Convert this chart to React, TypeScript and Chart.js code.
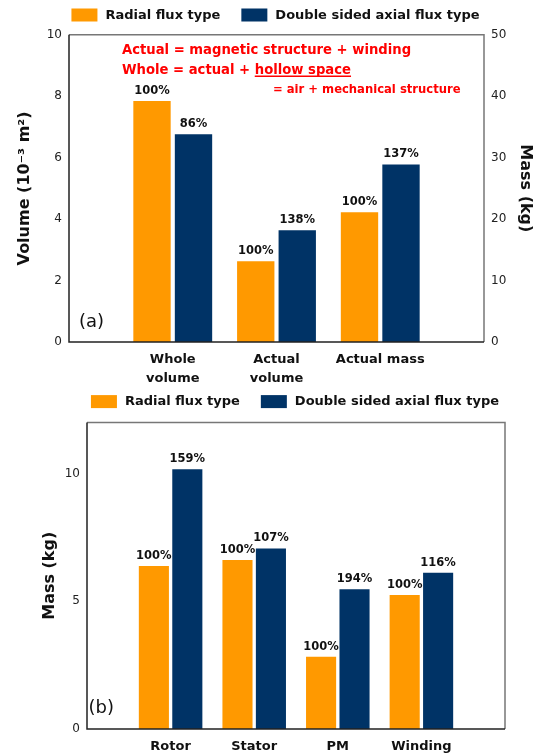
import React, { useEffect, useRef } from 'react';
import { Chart, registerables } from 'chart.js';

Chart.register(...registerables);

const FONT = '"DejaVu Sans", Verdana, sans-serif';
const ORANGE = '#FF9900';
const NAVY = '#003366';

const seriesNames = ['Radial flux type', 'Double sided axial flux type'];
const seriesColors = [ORANGE, NAVY];

// ---- (a) ----
const categoriesA: (string | string[])[] = [['Whole', 'volume'], ['Actual', 'volume'], 'Actual mass'];
const volumeCategoryIdx = [0, 1];
const massCategoryIdx = [2];
const volumeRadial = [7.84, 2.63]; // 10^-3 m^3
const volumeAxial = [6.76, 3.64];
const massRadialA = [21.1]; // kg
const massAxialA = [28.9];
const pctRadialA = ['100%', '100%', '100%'];
const pctAxialA = ['86%', '138%', '137%'];
const volumeTicks = [0, 2, 4, 6, 8, 10];
const massTicksA = [0, 10, 20, 30, 40, 50];
const noteLine1 = 'Actual = magnetic structure + winding';
const noteLine2Prefix = 'Whole = actual + ';
const noteLine2Under = 'hollow space';
const noteLine3 = '= air + mechanical structure';

// ---- (b) ----
const categoriesB = ['Rotor', 'Stator', 'PM', 'Winding'];
const massRadialB = [6.38, 6.62, 2.83, 5.25];
const massAxialB = [10.17, 7.07, 5.47, 6.12];
const pctRadialB = ['100%', '100%', '100%', '100%'];
const pctAxialB = ['159%', '107%', '194%', '116%'];
const massTicksB = [0, 5, 10];
const massMaxB = 12;

function place<T>(values: T[], idxs: number[], n: number): (T | null)[] {
  const out: (T | null)[] = Array(n).fill(null);
  idxs.forEach((ci, k) => { out[ci + 1] = values[k]; });
  return out;
}

const pctPlugin = {
  id: 'pct',
  afterDatasetsDraw(chart: any) {
    const ctx = chart.ctx;
    ctx.save();
    ctx.font = `bold 11.5px ${FONT}`;
    ctx.fillStyle = '#111';
    ctx.textAlign = 'center';
    ctx.textBaseline = 'alphabetic';
    chart.data.datasets.forEach((ds: any, i: number) => {
      const meta = chart.getDatasetMeta(i);
      meta.data.forEach((el: any, j: number) => {
        const label = ds.pct ? ds.pct[j] : null;
        if (label == null || ds.data[j] == null) return;
        ctx.fillText(label, el.x, el.y - 7);
      });
    });
    ctx.restore();
  },
};

const framePlugin = {
  id: 'frame',
  afterDraw(chart: any) {
    const { ctx, chartArea: a } = chart;
    ctx.save();
    ctx.lineWidth = 1.5;
    ctx.strokeStyle = '#777';
    ctx.beginPath();
    ctx.moveTo(a.left, a.top);
    ctx.lineTo(a.right, a.top);
    ctx.lineTo(a.right, a.bottom);
    ctx.stroke();
    ctx.strokeStyle = '#222';
    ctx.beginPath();
    ctx.moveTo(a.left, a.top);
    ctx.lineTo(a.left, a.bottom);
    ctx.lineTo(a.right, a.bottom);
    ctx.stroke();
    ctx.restore();
  },
};

const boxLegendPlugin = {
  id: 'boxLegend',
  afterDraw(chart: any, _args: any, opts: any) {
    const { ctx, chartArea: a } = chart;
    ctx.save();
    ctx.font = `bold 13px ${FONT}`;
    const boxW = 26, boxH = 13, gap = 8, spacing = 21;
    const items = seriesNames.map((t, i) => ({ t, c: seriesColors[i], w: ctx.measureText(t).width }));
    const total = items.reduce((s, it) => s + boxW + gap + it.w, 0) + spacing * (items.length - 1);
    let x = (a.left + a.right) / 2 - 1 - total / 2;
    const y = opts.y;
    ctx.textBaseline = 'middle';
    ctx.textAlign = 'left';
    items.forEach((it) => {
      ctx.fillStyle = it.c;
      ctx.fillRect(x, y - boxH / 2, boxW, boxH);
      x += boxW + gap;
      ctx.fillStyle = '#111';
      ctx.fillText(it.t, x, y + 0.5);
      x += it.w + spacing;
    });
    ctx.restore();
  },
};

const notesPlugin = {
  id: 'notes',
  afterDraw(chart: any) {
    const { ctx, chartArea: a } = chart;
    ctx.save();
    ctx.fillStyle = '#FF0000';
    ctx.strokeStyle = '#FF0000';
    ctx.textBaseline = 'middle';
    ctx.textAlign = 'left';
    ctx.font = `bold 13.2px ${FONT}`;
    const x0 = a.left + 53;
    ctx.fillText(noteLine1, x0, a.top + 16);
    ctx.fillText(noteLine2Prefix + noteLine2Under, x0, a.top + 36);
    const ux = x0 + ctx.measureText(noteLine2Prefix).width;
    const uw = ctx.measureText(noteLine2Under).width;
    ctx.lineWidth = 1.5;
    ctx.beginPath();
    ctx.moveTo(ux, a.top + 41.5);
    ctx.lineTo(ux + uw, a.top + 41.5);
    ctx.stroke();
    ctx.font = `bold 11.6px ${FONT}`;
    ctx.fillText(noteLine3, a.left + 204, a.top + 55.5);
    ctx.restore();
  },
};

function panelLabelPlugin(text: string, dx: number, dy: number) {
  return {
    id: 'panel',
    afterDraw(chart: any) {
      const { ctx, chartArea: a } = chart;
      ctx.save();
      ctx.fillStyle = '#111';
      ctx.font = `18px ${FONT}`;
      ctx.textBaseline = 'middle';
      ctx.textAlign = 'left';
      ctx.fillText(text, a.left + dx, a.bottom + dy);
      ctx.restore();
    },
  };
}

function yAxis(ticks: number[], max: number, title: string, position: string, width: number, titlePad: number, extra: any = {}) {
  return {
    type: 'linear',
    position,
    min: ticks[0],
    max,
    grid: { display: false, drawTicks: false },
    border: { display: false },
    ticks: {
      stepSize: ticks[1] - ticks[0],
      includeBounds: false,
      padding: 7,
      color: '#222',
      font: { family: FONT, size: 12 },
    },
    title: {
      display: true,
      text: title,
      color: '#111',
      font: { family: FONT, size: 16, weight: 'bold' },
      padding: { top: titlePad, bottom: 0 },
    },
    afterFit: (s: any) => { s.width = width; },
    ...extra,
  };
}

function xAxis(height: number, pad: number) {
  return {
    type: 'category',
    offset: false,
    grid: { display: false, drawTicks: false },
    border: { display: false },
    ticks: {
      autoSkip: false,
      maxRotation: 0,
      minRotation: 0,
      padding: pad,
      color: '#111',
      font: { family: FONT, size: 13, weight: 'bold', lineHeight: 1.4 },
    },
    afterFit: (s: any) => { s.height = height; },
  };
}

export default function App() {
  const refA = useRef<HTMLCanvasElement>(null);
  const refB = useRef<HTMLCanvasElement>(null);

  useEffect(() => {
    const n = categoriesA.length + 2;
    const labelsA = ['', ...categoriesA, ''];
    const chartA = new Chart(refA.current as HTMLCanvasElement, {
      type: 'bar',
      data: {
        labels: labelsA as any,
        datasets: [
          { label: seriesNames[0], data: place(volumeRadial, volumeCategoryIdx, n), backgroundColor: ORANGE, yAxisID: 'y', skipNull: true, pct: place(pctRadialA.slice(0, 2), volumeCategoryIdx, n) } as any,
          { label: seriesNames[1], data: place(volumeAxial, volumeCategoryIdx, n), backgroundColor: NAVY, yAxisID: 'y', skipNull: true, pct: place(pctAxialA.slice(0, 2), volumeCategoryIdx, n) } as any,
          { label: seriesNames[0], data: place(massRadialA, massCategoryIdx, n), backgroundColor: ORANGE, yAxisID: 'y1', skipNull: true, pct: place(pctRadialA.slice(2), massCategoryIdx, n) } as any,
          { label: seriesNames[1], data: place(massAxialA, massCategoryIdx, n), backgroundColor: NAVY, yAxisID: 'y1', skipNull: true, pct: place(pctAxialA.slice(2), massCategoryIdx, n) } as any,
        ],
      },
      options: {
        animation: false,
        responsive: true,
        maintainAspectRatio: false,
        layout: { padding: { top: 34.7, right: 0, bottom: 0, left: 0 } },
        plugins: {
          legend: { display: false },
          tooltip: { enabled: false },
          boxLegend: { y: 15 },
        } as any,
        scales: {
          x: xAxis(46, 9) as any,
          y: yAxis(volumeTicks, volumeTicks[volumeTicks.length - 1], 'Volume (10\u207B\u00B3 m\u00B2)', 'left', 69, 15) as any,
          y1: yAxis(massTicksA, massTicksA[massTicksA.length - 1], 'Mass (kg)', 'right', 58, 7.4) as any,
        },
      },
      plugins: [pctPlugin, framePlugin, boxLegendPlugin, notesPlugin, panelLabelPlugin('(a)', 10, -20)],
    });

    const nb = categoriesB.length + 2;
    const idxB = categoriesB.map((_, i) => i);
    const chartB = new Chart(refB.current as HTMLCanvasElement, {
      type: 'bar',
      data: {
        labels: ['', ...categoriesB, ''],
        datasets: [
          { label: seriesNames[0], data: place(massRadialB, idxB, nb), backgroundColor: ORANGE, skipNull: true, pct: place(pctRadialB, idxB, nb) } as any,
          { label: seriesNames[1], data: place(massAxialB, idxB, nb), backgroundColor: NAVY, skipNull: true, pct: place(pctAxialB, idxB, nb) } as any,
        ],
      },
      options: {
        animation: false,
        responsive: true,
        maintainAspectRatio: false,
        layout: { padding: { top: 34.5, right: 37, bottom: 0, left: 0 } },
        plugins: {
          legend: { display: false },
          tooltip: { enabled: false },
          boxLegend: { y: 13.6 },
        } as any,
        scales: {
          x: xAxis(26, 9) as any,
          y: yAxis(massTicksB, massMaxB, 'Mass (kg)', 'left', 87, 40.4) as any,
        },
      },
      plugins: [pctPlugin, framePlugin, boxLegendPlugin, panelLabelPlugin('(b)', 1.5, -21)],
    });

    return () => {
      chartA.destroy();
      chartB.destroy();
    };
  }, []);

  return (
    <div style={{ position: 'absolute', left: 0, top: 0, width: 542, height: 755, background: '#fff' }}>
      <div style={{ position: 'relative', width: 542, height: 388 }}>
        <canvas ref={refA} />
      </div>
      <div style={{ position: 'relative', width: 542, height: 367 }}>
        <canvas ref={refB} />
      </div>
    </div>
  );
}
